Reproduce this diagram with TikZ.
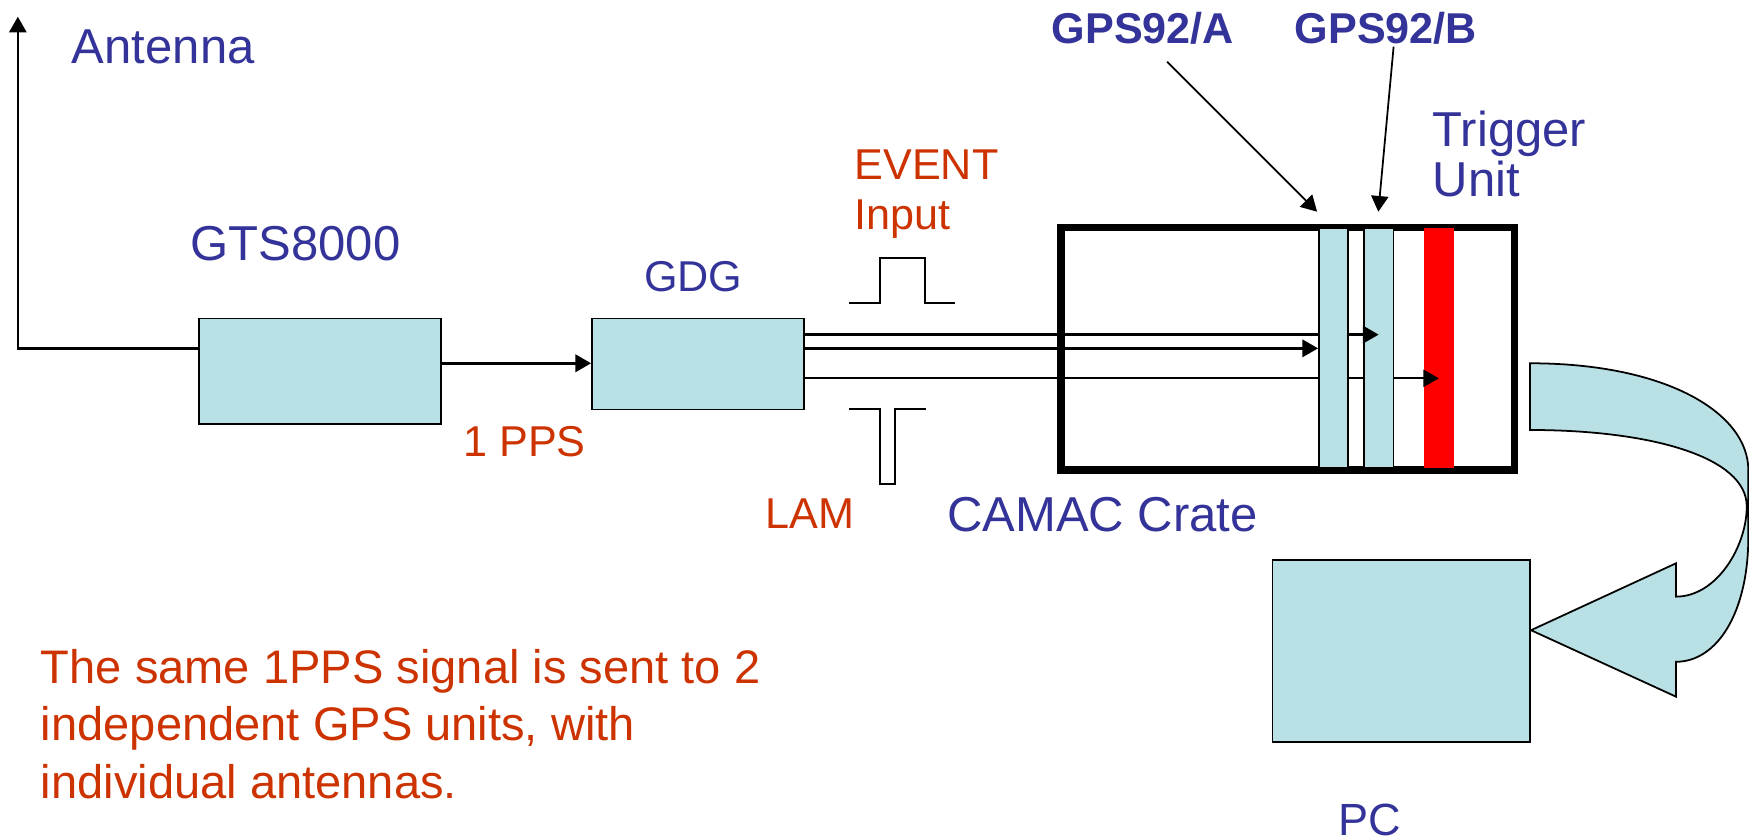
\documentclass[tikz,border=0pt]{standalone}
\usepackage{fontspec}
\setmainfont{Liberation Sans}
\usepackage{tikz}
\usetikzlibrary{arrows.meta}
\definecolor{BoxCyan}{RGB}{185,224,228}
\definecolor{LabelBlue}{RGB}{51,51,153}
\definecolor{NoteRed}{RGB}{204,51,0}

\begin{document}
\begin{tikzpicture}[x=0.01cm,y=-0.01cm,
    unitbox/.style={fill=BoxCyan,draw=black,line width=0.4pt,inner sep=0pt},
    slotbox/.style={unitbox,minimum height=2.14cm},
    lblblue/.style={inner sep=0pt,anchor=base west,align=left,text=LabelBlue,font=\fontsize{12.5}{12.75}\selectfont},
    lblred/.style={inner sep=0pt,anchor=base west,align=left,text=NoteRed,font=\fontsize{11}{12.75}\selectfont},
    sig/.style={line width=0.7pt,-{Triangle[length=4pt,width=4.4pt]}},
    ptr/.style={line width=0.45pt,-{Triangle[length=4pt,width=4.4pt]}},
    pulse/.style={line width=0.5pt}]

  \useasboundingbox (0,0) rectangle (1568,752);

  \node[unitbox,minimum width=2.17cm,minimum height=0.947cm] (gts) at (286.8,332.75) {};
  \node[unitbox,minimum width=1.901cm,minimum height=0.813cm] (gdg) at (625.75,326.35) {};
  \node[draw=black,line width=1.9pt,inner sep=0pt,minimum width=4.065cm,minimum height=2.174cm] (crate) at (1154.55,312.7) {};
  \node[fill=red,draw=red,inner sep=0pt,minimum width=0.257cm,minimum height=2.14cm] (trig) at (1290.05,312) {};
  \node[unitbox,minimum width=2.307cm,minimum height=1.63cm] (pc) at (1256.35,583.5) {};

  \coordinate (ant) at (16,15);
  \coordinate (antfoot) at (16,312.3);
  \coordinate (pps) at (0,325.7);
  \coordinate (s1) at (0,300);
  \coordinate (s2) at (0,312.3);
  \coordinate (s3) at (0,339.2);

  \draw[line width=0.6pt,-{Triangle[length=4pt,width=4.4pt]}] (antfoot -| gts.west) -- (antfoot) -- (ant);
  \draw[sig,line width=0.75pt] (pps -| gts.east) -- (pps -| gdg.west);

  \draw[sig,line width=0.45pt] (s3 -| gdg.east) -- (s3 -| trig);
  \node[slotbox,minimum width=0.264cm] (gpsb) at (1236,312) {};
  \draw[sig] (s1 -| gdg.east) -- (s1 -| gpsb);
  \node[slotbox,minimum width=0.261cm] (gpsa) at (1195.45,312) {};
  \draw[sig] (s2 -| gdg.east) -- (s2 -| gpsa.west);

  \draw[pulse] (761.3,271.3) -- (788.5,271.3) -- (788.5,231.6) -- (829,231.6) -- (829,271.3) -- (856.5,271.3);
  \draw[pulse] (761.3,366.7) -- (788.5,366.7) -- (788.5,434.2) -- (802.3,434.2) -- (802.3,366.7) -- (830,366.7);

  \coordinate (pa) at (1046.3,55.3);
  \coordinate (ta) at (1180.8,189.8);
  \coordinate (pb) at (1249.4,41.8);
  \coordinate (tb) at (1235.7,189.8);
  \draw[ptr] (pa) -- (ta);
  \draw[ptr] (pb) -- (tb);

  \filldraw[fill=BoxCyan,draw=black,line width=0.45pt] (1371.7,325.7) .. controls (1494.3,325.7) and (1567.4,370.5) .. (1567.4,421.4)
    -- (1567.4,481.1) .. controls (1567.4,550) and (1539,593.3) .. (1502.6,593.3) -- (1502.6,624.6) -- (1372.6,565)
    -- (1502.6,505) -- (1502.6,534.9) .. controls (1539,534.9) and (1566,490) .. (1566,454)
    .. controls (1566,409.4) and (1479.3,385.5) .. (1371.7,385.5) -- cycle;

  \node[lblblue] (antlbl) at (63.8,56.8) {Antenna};
  \node[lblblue] (gtslbl) at (170.2,233.7) {GTS8000};
  \node[lblblue,font=\fontsize{11}{12.75}\selectfont] (gdglbl) at (576.8,261.5) {GDG};
  \node[lblblue] (cratelbl) at (848.4,476.7) {CAMAC Crate};
  \node[lblblue] (triglbl) at (1283.7,176.3) {Trigger\\Unit};
  \node[lblblue,font=\fontsize{11.5}{12.75}\selectfont] (pclbl) at (1199.6,748.6) {PC};
  \node[lblblue,font=\bfseries\fontsize{11}{12.75}\selectfont] (alabel) at (942.3,38.8) {GPS92/A};
  \node[lblblue,font=\bfseries\fontsize{11}{12.75}\selectfont] (blabel) at (1160.1,38.8) {GPS92/B};
  \node[lblred] (ppslbl) at (414.8,409.4) {1 PPS};
  \node[lblred] (eventlbl) at (765.4,206.2) {EVENT\\Input};
  \node[lblred] (lamlbl) at (685.9,473.7) {LAM};
  \node[lblred,font=\fontsize{12}{14.65}\selectfont] (note) at (36,715.7) {The same 1PPS signal is sent to 2\\independent GPS units, with\\individual antennas.};
\end{tikzpicture}
\end{document}
